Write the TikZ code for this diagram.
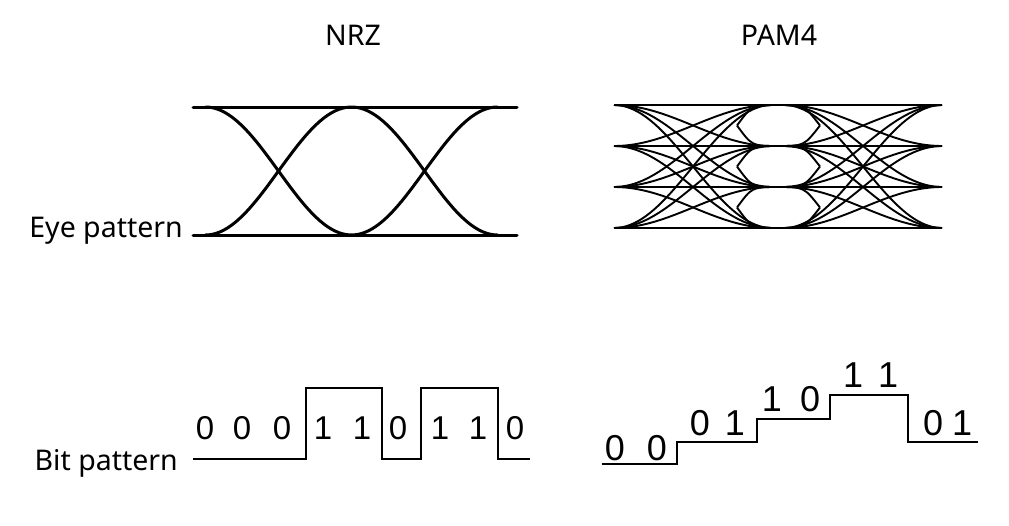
\documentclass[tikz,border=0pt]{standalone}
\usepackage{fontspec}
\setmainfont{Noto Sans}
\newfontfamily\digitfont{Liberation Sans}
\usetikzlibrary{positioning}

\begin{document}
\begin{tikzpicture}[x=1pt,y=-1pt,
title/.style={font=\fontsize{28.5}{31}\selectfont,inner sep=0pt},
digit/.style={font=\digitfont\fontsize{33}{35}\selectfont,inner sep=0pt},
bigdigit/.style={font=\digitfont\fontsize{36}{38}\selectfont,inner sep=0pt},
eye/.style={line width=3pt,line cap=round},
pam/.style={line width=1.9pt,samples=40},
wave/.style={line width=2.8pt,line join=miter}]
\useasboundingbox (0,0) rectangle (1009,525);
% headings and row labels
\node[title,anchor=base](nrz) at (353,45){NRZ};
\node[title,anchor=base](pamlbl) at (779,45){PAM4};
\node[title,anchor=base east](eyelbl) at (183,237){Eye pattern};
\node[title,anchor=base east](bitlbl) at (178,470){Bit pattern};
% NRZ eye
\draw[eye](193,107)--(517,107);
\draw[eye](193,235)--(517,235);
\draw[eye,domain=205.5:497.5,samples=80] plot (\x,{171-64*cos(((\x-205.5)/146)*180)});
\draw[eye,domain=205.5:497.5,samples=80] plot (\x,{171+64*cos(((\x-205.5)/146)*180)});
% PAM4 eye
\foreach \a in {105,146,187,228}{
  \draw[pam](614,\a)--(942,\a);
  \foreach \b in {105,146,187,228}{
    \draw[pam,domain=614:772] plot (\x,{\a+(\b-\a)*(1-cos(((\x-614)/158)*180))/2});
    \draw[pam,domain=784:942] plot (\x,{\a+(\b-\a)*(1-cos(((\x-784)/158)*180))/2});
  }}
\foreach \u/\l in {105/146,146/187,187/228}{
  \draw[pam](737,{(\u+\l)/2}) .. controls (752,\u) .. (778,\u) .. controls (804,\u) .. (820,{(\u+\l)/2});
  \draw[pam](737,{(\u+\l)/2}) .. controls (752,\l) .. (778,\l) .. controls (804,\l) .. (820,{(\u+\l)/2});
}
% NRZ bits
\draw[wave](193,459)-|(306,388)-|(382,459)-|(421,388)-|(498,459)--(530,459);
\foreach \p/\d in {205/0,242/0,282/0,323/1,362/1,398/0,440/1,478/1,515/0}
  \node[digit] at (\p,428){\d};
% PAM4 symbols
\draw[wave](602,464)-|(677,442)-|(757,419)-|(830,395)-|(908,442)--(978,442);
\foreach \p/\q/\d in {615/448/0,657/448/0,700/423/0,735/423/1,772/399/1,810/399/0,853/375/1,888/375/1,933/423/0,962/423/1}
  \node[bigdigit] at (\p,\q){\d};
\end{tikzpicture}
\end{document}
